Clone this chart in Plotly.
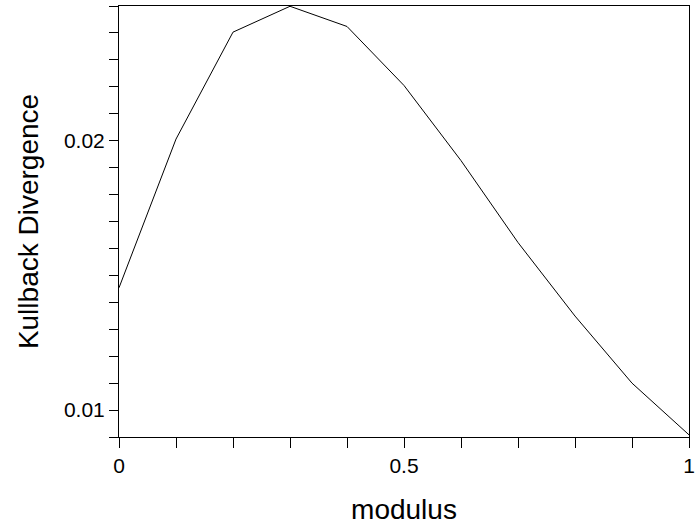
import plotly.graph_objects as go

modulus = [0.0, 0.1, 0.2, 0.3, 0.4, 0.5, 0.6, 0.7, 0.8, 0.9, 1.0]
kl_div = [0.01454, 0.02006, 0.02403, 0.02499, 0.02424, 0.02205, 0.01926, 0.01622, 0.01349, 0.01100, 0.00908]

x_tickvals = [0, 0.5, 1]
x_ticktext = ["0", "0.5", "1"]
y_tickvals = [0.01, 0.02]
y_ticktext = ["0.01", "0.02"]

fig = go.Figure()
fig.add_trace(go.Scatter(x=modulus, y=kl_div, mode="lines",
                         line=dict(color="black", width=1), showlegend=False))

font = "Liberation Sans, Arial, sans-serif"
fig.update_layout(
    width=696, height=530,
    margin=dict(l=119, r=7, t=6, b=93, autoexpand=False),
    paper_bgcolor="white", plot_bgcolor="white",
    font=dict(family=font, color="black", size=21),
)
fig.update_xaxes(
    range=[0, 1], tickvals=x_tickvals, ticktext=x_ticktext,
    ticks="outside", ticklen=10, tickwidth=1, tickcolor="black",
    minor=dict(dtick=0.1, ticks="outside", ticklen=10, tickwidth=1, tickcolor="black"),
    showline=True, linecolor="black", linewidth=1, mirror=True,
    showgrid=False, zeroline=False, ticklabeloverflow="allow", automargin=False,
    title=dict(text="modulus", font=dict(size=28), standoff=23),
    tickfont=dict(size=21),
)
fig.update_yaxes(
    range=[0.009, 0.025], tickvals=y_tickvals, ticktext=y_ticktext,
    ticks="outside", ticklen=9, tickwidth=1, tickcolor="black",
    minor=dict(dtick=0.001, tick0=0, ticks="outside", ticklen=9, tickwidth=1, tickcolor="black"),
    showline=True, linecolor="black", linewidth=1, mirror=True,
    showgrid=False, zeroline=False, automargin=False,
    title=dict(text="Kullback Divergence", font=dict(size=28), standoff=17),
    tickfont=dict(size=21),
)

fig.write_html("out.html", config={"displayModeBar": False},
               post_script="document.body.style.margin='0';")
